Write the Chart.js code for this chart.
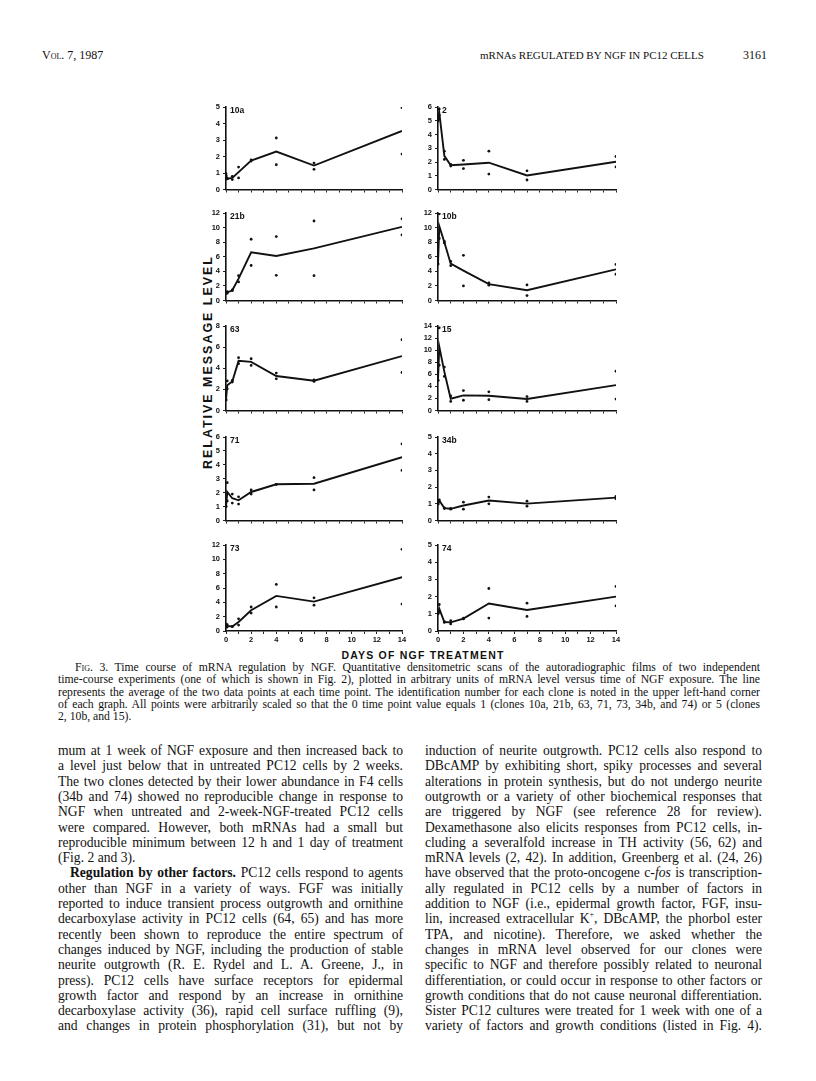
<!DOCTYPE html>
<html>
<head>
<meta charset="utf-8">
<script src="https://cdn.jsdelivr.net/npm/chart.js@4.4.0/dist/chart.umd.min.js"></script>
<style>
  html, body { margin: 0; padding: 0; background: #fff; }
  #page { position: relative; width: 816px; height: 1081px; overflow: hidden; color: #111;
          font-family: "Liberation Serif", "DejaVu Serif", serif; }
  .ln { position: absolute; white-space: nowrap; line-height: 14px; }
  .ax { position: absolute; white-space: nowrap; font-family: "Liberation Sans", Arial, sans-serif;
        font-weight: bold; color: #111; line-height: 14px; }
  canvas { position: absolute; }
  .sc { font-variant: small-caps; }
</style>
</head>
<body>
<div id="page"></div>
<script>
// ---- DATA (days of NGF treatment, relative message level) ----
const days = [0, 0.1, 0.5, 1, 2, 4, 7, 14];
const xTicks = [0, 2, 4, 6, 8, 10, 12, 14];

// clone 10a
const c10aMean = [0.9, 0.65, 0.7, 1.05, 1.75, 2.3, 1.45, 3.55];
const c10aA    = [0.96, 0.66, 0.8, 1.36, 1.8, 3.12, 1.6, 4.96];
const c10aB    = [0.85, 0.64, 0.6, 0.7, 1.72, 1.5, 1.22, 2.15];
// clone 2
const c2Mean = [5.0, 5.6, 2.45, 1.77, 1.82, 1.95, 1.02, 2.02];
const c2A    = [5.0, 5.85, 2.79, 1.83, 2.12, 2.79, 1.36, 2.4];
const c2B    = [5.0, 5.4, 2.19, 1.71, 1.52, 1.12, 0.69, 1.64];
// clone 21b
const c21bMean = [1.0, 1.1, 1.4, 3.0, 6.6, 6.1, 7.15, 10.1];
const c21bA    = [1.05, 1.2, 1.45, 3.4, 8.4, 8.77, 10.9, 11.2];
const c21bB    = [0.95, 1.0, 1.35, 2.55, 4.8, 3.45, 3.4, 9.0];
// clone 10b
const c10bMean = [5.0, 10.2, 8.0, 5.05, 4.1, 2.25, 1.4, 4.27];
const c10bA    = [5.0, 11.9, 8.1, 5.36, 6.2, 2.4, 2.14, 4.95];
const c10bB    = [5.0, 8.5, 7.9, 4.77, 2.0, 2.1, 0.68, 3.6];
// clone 63
const c63Mean = [1.0, 2.4, 2.75, 4.7, 4.6, 3.27, 2.82, 5.15];
const c63A    = [1.0, 2.8, 2.85, 5.0, 4.9, 3.54, 2.9, 6.7];
const c63B    = [1.0, 2.05, 2.7, 4.43, 4.27, 3.0, 2.75, 3.6];
// clone 15
const c15Mean = [5.0, 10.6, 6.4, 1.95, 2.5, 2.45, 1.9, 4.2];
const c15A    = [5.0, 13.7, 7.2, 2.4, 3.3, 3.1, 2.3, 6.5];
const c15B    = [5.0, 7.5, 5.65, 1.5, 1.7, 1.8, 1.5, 1.9];
// clone 71
const c71Mean = [1.0, 2.05, 1.6, 1.45, 2.05, 2.6, 2.64, 4.55];
const c71A    = [1.0, 2.72, 1.9, 1.7, 2.2, 2.6, 3.08, 5.5];
const c71B    = [1.0, 1.4, 1.25, 1.18, 1.9, 2.6, 2.2, 3.6];
// clone 34b
const c34bMean = [1.0, 1.2, 0.74, 0.7, 0.9, 1.2, 1.01, 1.37];
const c34bA    = [1.02, 1.24, 0.76, 0.72, 1.1, 1.4, 1.16, 1.44];
const c34bB    = [0.98, 1.16, 0.72, 0.68, 0.68, 1.0, 0.86, 1.3];
// clone 73
const c73Mean = [0.75, 0.72, 0.62, 1.25, 2.9, 4.9, 4.1, 7.5];
const c73A    = [0.95, 0.9, 0.65, 1.7, 3.35, 6.5, 4.63, 11.4];
const c73B    = [0.55, 0.55, 0.6, 0.83, 2.5, 3.35, 3.6, 3.76];
// clone 74
const c74Mean = [1.0, 1.3, 0.52, 0.5, 0.72, 1.6, 1.22, 2.0];
const c74A    = [1.0, 1.54, 0.55, 0.6, 0.74, 2.47, 1.62, 2.59];
const c74B    = [1.0, 1.1, 0.5, 0.41, 0.7, 0.75, 0.85, 1.46];

const panels = [
  { name: '10a', mean: c10aMean, a: c10aA, b: c10aB, ymax: 5,  step: 1, col: 0, row: 0 },
  { name: '2',   mean: c2Mean,   a: c2A,   b: c2B,   ymax: 6,  step: 1, col: 1, row: 0 },
  { name: '21b', mean: c21bMean, a: c21bA, b: c21bB, ymax: 12, step: 2, col: 0, row: 1 },
  { name: '10b', mean: c10bMean, a: c10bA, b: c10bB, ymax: 12, step: 2, col: 1, row: 1 },
  { name: '63',  mean: c63Mean,  a: c63A,  b: c63B,  ymax: 8,  step: 2, col: 0, row: 2 },
  { name: '15',  mean: c15Mean,  a: c15A,  b: c15B,  ymax: 14, step: 2, col: 1, row: 2 },
  { name: '71',  mean: c71Mean,  a: c71A,  b: c71B,  ymax: 6,  step: 1, col: 0, row: 3 },
  { name: '34b', mean: c34bMean, a: c34bA, b: c34bB, ymax: 5,  step: 1, col: 1, row: 3 },
  { name: '73',  mean: c73Mean,  a: c73A,  b: c73B,  ymax: 12, step: 2, col: 0, row: 4 },
  { name: '74',  mean: c74Mean,  a: c74A,  b: c74B,  ymax: 5,  step: 1, col: 1, row: 4 }
];

// ---- PAGE TEXT ----
const headerLeft = 'Vol. 7, 1987';
const headerMid = 'mRNAs REGULATED BY NGF IN PC12 CELLS';
const headerPage = '3161';

const captionLines = [
  '<span class="sc">Fig. 3.</span> Time course of mRNA regulation by NGF. Quantitative densitometric scans of the autoradiographic films of two independent',
  'time-course experiments (one of which is shown in Fig. 2), plotted in arbitrary units of mRNA level versus time of NGF exposure. The line',
  'represents the average of the two data points at each time point. The identification number for each clone is noted in the upper left-hand corner',
  'of each graph. All points were arbitrarily scaled so that the 0 time point value equals 1 (clones 10a, 21b, 63, 71, 73, 34b, and 74) or 5 (clones',
  '2, 10b, and 15).'
];

const leftLines = [
  'mum at 1 week of NGF exposure and then increased back to',
  'a level just below that in untreated PC12 cells by 2 weeks.',
  'The two clones detected by their lower abundance in F4 cells',
  '(34b and 74) showed no reproducible change in response to',
  'NGF when untreated and 2-week-NGF-treated PC12 cells',
  'were compared. However, both mRNAs had a small but',
  'reproducible minimum between 12 h and 1 day of treatment',
  '(Fig. 2 and 3).',
  '<b>Regulation by other factors.</b> PC12 cells respond to agents',
  'other than NGF in a variety of ways. FGF was initially',
  'reported to induce transient process outgrowth and ornithine',
  'decarboxylase activity in PC12 cells (64, 65) and has more',
  'recently been shown to reproduce the entire spectrum of',
  'changes induced by NGF, including the production of stable',
  'neurite outgrowth (R. E. Rydel and L. A. Greene, J., in',
  'press). PC12 cells have surface receptors for epidermal',
  'growth factor and respond by an increase in ornithine',
  'decarboxylase activity (36), rapid cell surface ruffling (9),',
  'and changes in protein phosphorylation (31), but not by'
];

const rightLines = [
  'induction of neurite outgrowth. PC12 cells also respond to',
  'DBcAMP by exhibiting short, spiky processes and several',
  'alterations in protein synthesis, but do not undergo neurite',
  'outgrowth or a variety of other biochemical responses that',
  'are triggered by NGF (see reference 28 for review).',
  'Dexamethasone also elicits responses from PC12 cells, in-',
  'cluding a severalfold increase in TH activity (56, 62) and',
  'mRNA levels (2, 42). In addition, Greenberg et al. (24, 26)',
  'have observed that the proto-oncogene c-<i>fos</i> is transcription-',
  'ally regulated in PC12 cells by a number of factors in',
  'addition to NGF (i.e., epidermal growth factor, FGF, insu-',
  'lin, increased extracellular K<sup style="font-size:8px;line-height:0">+</sup>, DBcAMP, the phorbol ester',
  'TPA, and nicotine). Therefore, we asked whether the',
  'changes in mRNA level observed for our clones were',
  'specific to NGF and therefore possibly related to neuronal',
  'differentiation, or could occur in response to other factors or',
  'growth conditions that do not cause neuronal differentiation.',
  'Sister PC12 cultures were treated for 1 week with one of a',
  'variety of factors and growth conditions (listed in Fig. 4).'
];

const page = document.getElementById('page');

function addLine(html, x, y, w, size, justify) {
  const d = document.createElement('div');
  d.className = 'ln';
  d.style.left = x + 'px';
  d.style.top = (y - 7) + 'px';
  d.style.fontSize = size + 'px';
  d.innerHTML = html;
  page.appendChild(d);
  if (justify) {
    const nat = d.getBoundingClientRect().width;
    const n = (d.textContent.match(/ /g) || []).length;
    if (n) d.style.wordSpacing = ((w - nat) / n) + 'px';
  }
  return d;
}

// header
addLine('<span class="sc">' + headerLeft + '</span>', 42, 55, 0, 12, false);
addLine(headerMid, 480, 55, 0, 11, false);
addLine(headerPage, 743, 55, 0, 12, false);

// caption
captionLines.forEach(function(t, i) {
  const ind = i === 0 ? 17 : 0;
  addLine(t, 58 + ind, 668 + i * 12.3, 702 - ind, 11.7, i < captionLines.length - 1);
});

// body columns
leftLines.forEach(function(t, i) {
  const ind = (i === 8) ? 12 : 0;
  addLine(t, 58 + ind, 751 + i * 15.3, 345 - ind, 13.6, i !== 7);
});
rightLines.forEach(function(t, i) {
  addLine(t, 425, 751 + i * 15.3, 337, 13.6, true);
});

// axis titles
function addAxisTitle(text, cx, cy, len, size, rotate) {
  const d = document.createElement('div');
  d.className = 'ax';
  d.style.fontSize = size + 'px';
  d.textContent = text;
  page.appendChild(d);
  const nat = d.getBoundingClientRect().width;
  d.style.letterSpacing = ((len - nat) / (text.length - 1)) + 'px';
  const w = d.getBoundingClientRect().width;
  d.style.left = (cx - w / 2) + 'px';
  d.style.top = (cy - 7) + 'px';
  if (rotate) d.style.transform = 'rotate(-90deg)';
}
addAxisTitle('RELATIVE MESSAGE LEVEL', 208, 362, 212, 12.5, true);
addAxisTitle('DAYS OF NGF TREATMENT', 423, 655, 162, 10.5, false);

// ---- CHARTS ----
const colLeft = [190, 402];
const plotLeft = [226, 438];
const plotRight = [402, 616];
const rowTop = [107, 213, 326, 437, 545];
const rowBottom = [190, 301, 411, 521, 631];
const tickFont = { family: '"Liberation Sans", Arial, sans-serif', size: 7.5, weight: 'bold' };

const cloneLabel = {
  id: 'cloneLabel',
  afterDraw: function(chart, args, opts) {
    const ctx = chart.ctx;
    const area = chart.chartArea;
    ctx.save();
    ctx.font = 'bold 8.5px "Liberation Sans", Arial, sans-serif';
    ctx.fillStyle = '#111';
    ctx.textBaseline = 'top';
    ctx.fillText(opts.text, area.left + 4, area.top - 1);
    ctx.restore();
  }
};

function pts(vals) {
  return days.map(function(d, i) { return { x: d, y: vals[i] }; });
}

panels.forEach(function(p) {
  const bottom = p.row === 4;
  const xh = bottom ? 16 : 5;
  const padTop = 10;
  const c = document.createElement('canvas');
  const w = plotRight[p.col] + 8 - colLeft[p.col];
  const h = padTop + (rowBottom[p.row] - rowTop[p.row]) + xh + 2;
  c.width = w; c.height = h;
  c.style.left = colLeft[p.col] + 'px';
  c.style.top = (rowTop[p.row] - padTop) + 'px';
  c.style.width = w + 'px'; c.style.height = h + 'px';
  page.appendChild(c);
  const yw = plotLeft[p.col] - colLeft[p.col];

  new Chart(c, {
    type: 'scatter',
    data: {
      datasets: [{
        data: pts(p.mean),
        showLine: true,
        borderColor: '#111',
        borderWidth: 1.9,
        pointRadius: 0,
        tension: 0
      }, {
        data: pts(p.a),
        pointRadius: 1.4,
        backgroundColor: '#111',
        borderWidth: 0
      }, {
        data: pts(p.b),
        pointRadius: 1.4,
        backgroundColor: '#111',
        borderWidth: 0
      }]
    },
    options: {
      responsive: false,
      animation: false,
      layout: { padding: { top: padTop, right: 8, bottom: 2, left: 0 } },
      plugins: {
        legend: { display: false },
        tooltip: { enabled: false },
        cloneLabel: { text: p.name }
      },
      scales: {
        x: {
          type: 'linear', min: 0, max: 14,
          afterFit: function(s) { s.height = xh; },
          ticks: {
            stepSize: 1, autoSkip: false, maxRotation: 0, padding: 1,
            font: tickFont, color: '#111',
            callback: function(v) { return (bottom && xTicks.indexOf(v) >= 0) ? String(v) : ''; }
          },
          grid: { drawOnChartArea: false, tickLength: 3, color: '#222', lineWidth: 1 },
          border: { color: '#111', width: 1.6 }
        },
        y: {
          min: 0, max: p.ymax,
          afterFit: function(s) { s.width = yw; },
          ticks: { stepSize: p.step, padding: 3, font: tickFont, color: '#111' },
          grid: { drawOnChartArea: false, tickLength: 3, color: '#222', lineWidth: 1 },
          border: { color: '#111', width: 1.6 }
        }
      }
    },
    plugins: [cloneLabel]
  });
});
</script>
</body>
</html>
